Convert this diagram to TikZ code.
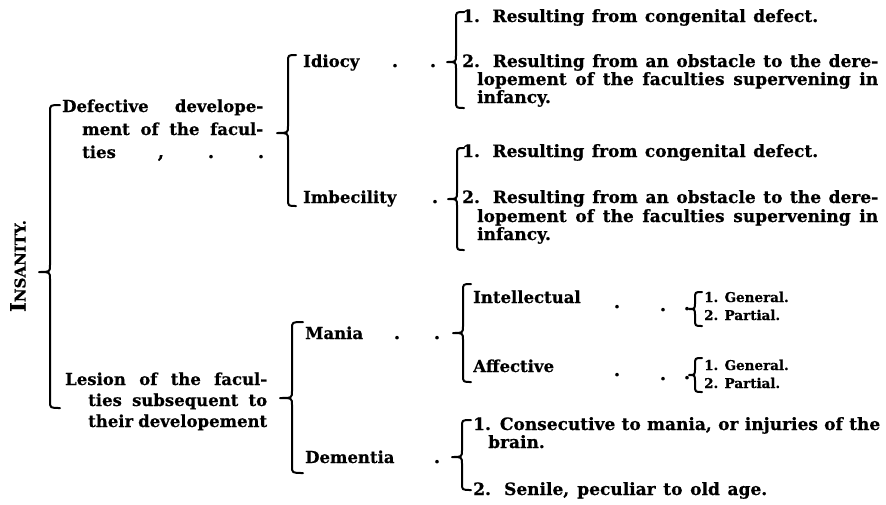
\documentclass[tikz,border=0pt]{standalone}
\usepackage{fontspec}
\setmainfont{DejaVu Serif}[BoldFeatures={FakeBold=0.6}]
\newcommand\jl[2]{\makebox[#1pt][s]{#2}}
\newcommand\bracepath[6]{\draw[brc] (#3,#4) .. controls (#2,#4) .. (#2,#4+7) -- (#2,#5-7) .. controls (#2,#5) .. (#1,#5) .. controls (#2,#5) .. (#2,#5+7) -- (#2,#6-7) .. controls (#2,#6) .. (#3,#6);}
\tikzset{
 txt/.style={anchor=base west, inner sep=0pt, font=\bfseries\fontsize{16.5}{18}\selectfont},
 itm/.style={anchor=base west, inner sep=0pt, font=\bfseries\fontsize{17}{18}\selectfont},
 sml/.style={anchor=base west, inner sep=0pt, font=\bfseries\fontsize{13.5}{15}\selectfont},
 dotn/.style={anchor=base, inner sep=0pt, font=\bfseries\fontsize{18}{18}\selectfont},
 brc/.style={line width=2pt, line cap=round, line join=round}
}
\begin{document}
\begin{tikzpicture}[x=1pt,y=-1pt]
\useasboundingbox[fill=white] (0,0) rectangle (886,504);
% Title
\node[rotate=90, inner sep=0pt, font=\bfseries] (ins) at (18,266) {{\fontsize{21}{21}\selectfont I}{\fontsize{15}{15}\selectfont NSANITY.}};
\bracepath{39}{50}{60}{105}{272}{408}
% Defective
\node[txt] (d1) at (62,112) {\jl{201}{Defective develope-}};
\node[txt] (d2) at (82,135) {\jl{181}{ment of the facul-}};
\node[txt] (d3) at (82,158) {ties};
\node[dotn] (dd1) at (161,158) {,};
\node[dotn] (dd2) at (211,158) {.};
\node[dotn] (dd3) at (261,158) {.};
\bracepath{277}{288}{296}{55}{133}{206}
% Idiocy
\node[txt] (id) at (303,67) {Idiocy};
\node[dotn] (idd1) at (395,67) {.};
\node[dotn] (idd2) at (433,67) {.};
\bracepath{447}{456}{464}{12}{62}{108}
\node[itm] (i1) at (462,22) {\jl{356}{1. Resulting from congenital defect.}};
\node[itm] (i2) at (462,67) {\jl{416}{2. Resulting from an obstacle to the dere-}};
\node[itm] (i3) at (477,85) {\jl{401}{lopement of the faculties supervening in}};
\node[itm] (i4) at (477,103) {infancy.};
% Imbecility
\node[txt] (im) at (303,203) {Imbecility};
\node[dotn] (imd) at (435,203) {.};
\bracepath{448}{457}{464}{148}{199}{250}
\node[itm] (m1) at (462,157) {\jl{356}{1. Resulting from congenital defect.}};
\node[itm] (m2) at (462,203) {\jl{416}{2. Resulting from an obstacle to the dere-}};
\node[itm] (m3) at (477,222) {\jl{401}{lopement of the faculties supervening in}};
\node[itm] (m4) at (477,240) {infancy.};
% Lesion
\node[txt] (l1) at (65,385) {\jl{202}{Lesion of the facul-}};
\node[txt] (l2) at (88,406) {\jl{179}{ties subsequent to}};
\node[txt] (l3) at (88,427) {\jl{179}{their developement}};
\bracepath{280}{292}{303}{322}{398}{473}
% Mania
\node[txt] (ma) at (305,339) {Mania};
\node[dotn] (mad1) at (397,339) {.};
\node[dotn] (mad2) at (437,339) {.};
\bracepath{453}{463}{471}{284}{333}{382}
\node[txt] (int) at (473,303) {Intellectual};
\node[dotn] (intd1) at (617,308) {.};
\node[dotn] (intd2) at (663,311) {.};
\node[dotn] (intd3) at (687,310) {.};
\bracepath{689}{695}{702}{292}{309}{326}
\node[sml] (g1) at (704,302) {1. General.};
\node[sml] (p1) at (704,320) {2. Partial.};
\node[txt] (aff) at (473,372) {Affective};
\node[dotn] (affd1) at (617,376) {.};
\node[dotn] (affd2) at (663,380) {.};
\node[dotn] (affd3) at (687,379) {.};
\bracepath{689}{695}{702}{358}{375}{392}
\node[sml] (g2) at (704,370) {1. General.};
\node[sml] (p2) at (704,388) {2. Partial.};
% Dementia
\node[txt] (de) at (305,463) {Dementia};
\node[dotn] (ded) at (437,463) {.};
\bracepath{452}{462}{471}{420}{457}{490}
\node[itm] (c1) at (473,430) {\jl{407}{1. Consecutive to mania, or injuries of the}};
\node[itm] (c2) at (488,448) {brain.};
\node[itm] (c3) at (473,495) {\jl{294}{2. Senile, peculiar to old age.}};
\end{tikzpicture}
\end{document}
